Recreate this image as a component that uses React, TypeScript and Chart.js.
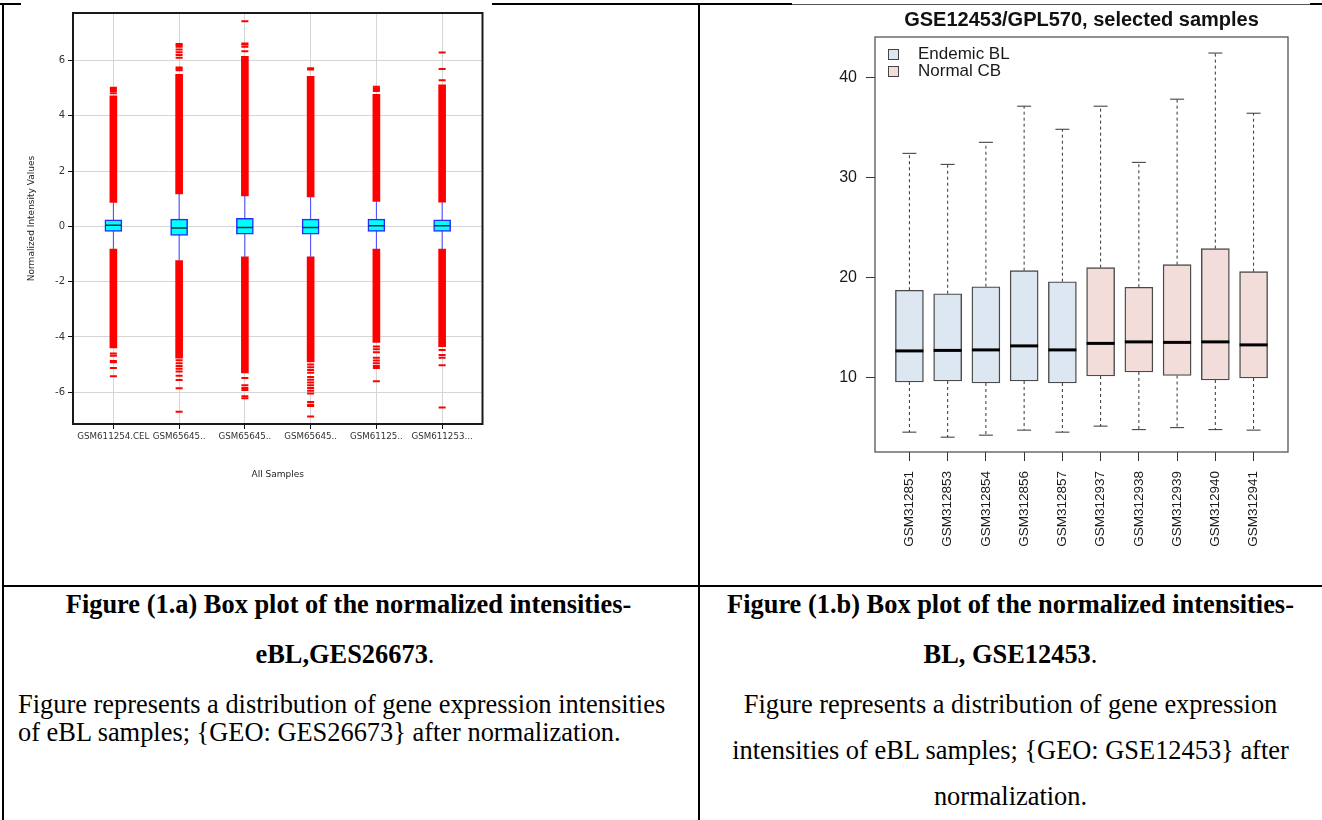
import React, { useEffect, useRef } from 'react';
import { Chart, registerables } from 'chart.js';

Chart.register(...registerables);

// ---------------- Figure 1.a : GSE26673 (normalized intensities) ----------------
const leftLabels = ['GSM611254.CEL', 'GSM65645..', 'GSM65645..', 'GSM65645..', 'GSM61125..', 'GSM611253...'];
const leftYTicks = [-6, -4, -2, 0, 2, 4, 6];
const leftQ1 = [-0.18, -0.33, -0.28, -0.28, -0.18, -0.18];
const leftMedian = [0.04, -0.06, -0.04, -0.04, 0.02, 0.02];
const leftQ3 = [0.24, 0.265, 0.29, 0.265, 0.265, 0.24];
const leftWhiskerLow = [-0.82, -1.24, -1.1, -1.1, -0.82, -0.82];
const leftWhiskerHigh = [0.87, 1.17, 1.1, 1.07, 0.9, 0.88];
// continuous band of densely packed outliers beyond each whisker
const leftDenseHigh = [4.72, 5.5, 6.15, 5.43, 4.78, 5.12];
const leftDenseLow = [-4.4, -4.77, -5.3, -4.9, -4.2, -4.35];
// separated outliers
const leftOutliersHigh = [
  [4.82, 4.9, 4.97, 5.02],
  [5.65, 5.7, 5.75, 6.1, 6.2, 6.3, 6.4, 6.5, 6.55, 6.6],
  [6.34, 6.5, 6.58, 6.62, 7.42],
  [5.68, 5.72],
  [4.9, 4.95, 5.0, 5.05],
  [5.29, 5.69, 6.29],
];
const leftOutliersLow = [
  [-4.6, -4.68, -4.87, -4.92, -5.12, -5.42],
  [-4.84, -4.95, -5.05, -5.15, -5.25, -5.4, -5.56, -5.86, -6.71],
  [-5.49, -5.75, -5.85, -5.92, -6.15, -6.22],
  [-5.0, -5.1, -5.2, -5.3, -5.45, -5.55, -5.65, -5.75, -5.85, -5.95, -6.05, -6.35, -6.45, -6.5, -6.88],
  [-4.35, -4.45, -4.55, -4.75, -4.85, -4.95, -5.05, -5.12, -5.6],
  [-4.47, -4.65, -4.75, -5.02, -6.55],
];

// ---------------- Figure 1.b : GSE12453/GPL570 ----------------
const rightTitle = 'GSE12453/GPL570, selected samples';
const rightLabels = ['GSM312851', 'GSM312853', 'GSM312854', 'GSM312856', 'GSM312857', 'GSM312937', 'GSM312938', 'GSM312939', 'GSM312940', 'GSM312941'];
const rightGroup = [0, 0, 0, 0, 0, 1, 1, 1, 1, 1];
const groupNames = ['Endemic BL', 'Normal CB'];
const groupColors = ['#dde7f1', '#f2dddb'];
const rightYTicks = [10, 20, 30, 40];
const rightMin = [4.6, 4.1, 4.3, 4.8, 4.6, 5.2, 4.85, 5.05, 4.85, 4.8];
const rightQ1 = [9.6, 9.7, 9.5, 9.7, 9.5, 10.2, 10.6, 10.25, 9.8, 10.0];
const rightMedian = [12.7, 12.75, 12.8, 13.2, 12.8, 13.45, 13.6, 13.55, 13.6, 13.3];
const rightQ3 = [18.75, 18.4, 19.1, 20.7, 19.6, 21.0, 19.05, 21.3, 22.9, 20.6];
const rightMax = [32.4, 31.3, 33.5, 37.1, 34.8, 37.1, 31.5, 37.8, 42.4, 36.4];

const framePlugin = {
  id: 'frame',
  afterDraw(chart: any, _args: any, opts: any) {
    if (!opts || !opts.color) return;
    const { ctx, chartArea: a } = chart;
    ctx.save();
    ctx.strokeStyle = opts.color;
    ctx.lineWidth = opts.width;
    ctx.strokeRect(a.left, a.top, a.right - a.left, a.bottom - a.top);
    ctx.restore();
  },
};

const boxLegendPlugin = {
  id: 'boxLegend',
  afterDraw(chart: any, _args: any, opts: any) {
    if (!opts || !opts.items) return;
    const { ctx, chartArea: a } = chart;
    ctx.save();
    ctx.font = opts.font;
    ctx.textBaseline = 'middle';
    ctx.textAlign = 'left';
    opts.items.forEach((it: any, i: number) => {
      const x = a.left + opts.left;
      const y = a.top + opts.top + i * opts.spacing;
      ctx.fillStyle = it.color;
      ctx.fillRect(x, y - opts.box / 2, opts.box, opts.box);
      ctx.strokeStyle = '#444';
      ctx.lineWidth = 1;
      ctx.strokeRect(x + 0.5, y - opts.box / 2 + 0.5, opts.box, opts.box);
      ctx.fillStyle = '#1a1a1a';
      ctx.fillText(it.label, x + opts.textGap, y);
    });
    ctx.restore();
  },
};

function whiskerData(idx: number[], q1: number[], q3: number[], lo: number[], hi: number[]) {
  const out: any[] = [];
  idx.forEach((i) => {
    out.push({ x: i, y: q3[i] }, { x: i, y: hi[i] }, { x: i, y: null });
    out.push({ x: i, y: q1[i] }, { x: i, y: lo[i] }, { x: i, y: null });
  });
  return out;
}

function leftConfig(): any {
  const idx = leftLabels.map((_, i) => i);
  const dejavu = '"DejaVu Sans", Verdana, sans-serif';
  return {
    type: 'bar',
    data: {
      datasets: [
        {
          type: 'scatter',
          data: idx.map((i) => ({ x: i, y: leftMedian[i] })),
          pointStyle: 'line',
          pointRadius: 8,
          pointBorderWidth: 1.5,
          pointBorderColor: '#10304a',
          order: 0,
        },
        {
          type: 'bar',
          data: idx.map((i) => ({ x: i, y: [leftQ1[i], leftQ3[i]] })),
          backgroundColor: '#00ffff',
          borderColor: '#2a2aff',
          borderWidth: 1.5,
          borderSkipped: false,
          barThickness: 17,
          grouped: false,
          order: 1,
        },
        {
          type: 'line',
          data: idx.flatMap((i) => [
            { x: i, y: leftWhiskerLow[i] },
            { x: i, y: leftWhiskerHigh[i] },
            { x: i, y: null },
          ]),
          borderColor: '#4444ff',
          borderWidth: 1,
          pointRadius: 0,
          spanGaps: false,
          order: 2,
        },
        {
          type: 'bar',
          data: idx.flatMap((i) => [
            { x: i, y: [leftWhiskerHigh[i], leftDenseHigh[i]] },
            { x: i, y: [leftDenseLow[i], leftWhiskerLow[i]] },
          ]),
          backgroundColor: '#ff0000',
          borderWidth: 0,
          barThickness: 7,
          grouped: false,
          order: 3,
        },
        {
          type: 'scatter',
          data: idx.flatMap((i) => [...leftOutliersHigh[i], ...leftOutliersLow[i]].map((v) => ({ x: i, y: v }))),
          pointStyle: 'line',
          pointRadius: 3.5,
          pointBorderWidth: 2,
          pointBorderColor: '#ff0000',
          order: 4,
        },
      ],
    },
    options: {
      animation: false,
      responsive: true,
      maintainAspectRatio: false,
      events: [],
      layout: { padding: { top: 13, right: 8, left: 0, bottom: 0 } },
      plugins: {
        legend: { display: false },
        tooltip: { enabled: false },
        frame: { color: '#1a1a1a', width: 2 },
      },
      scales: {
        x: {
          type: 'linear',
          offset: false,
          min: -0.614,
          max: 5.614,
          afterBuildTicks: (s: any) => {
            s.ticks = idx.map((v) => ({ value: v }));
          },
          afterFit: (s: any) => {
            s.height = 66;
          },
          ticks: {
            autoSkip: false,
            maxRotation: 0,
            padding: 3,
            color: '#333',
            font: { family: dejavu, size: 8.7 },
            callback: (_v: any, i: number) => leftLabels[i],
          },
          grid: { offset: false, color: '#d6d6d6', tickColor: '#111', tickLength: 5, lineWidth: 1 },
          border: { display: false },
          title: {
            display: true,
            text: 'All Samples',
            color: '#222',
            font: { family: dejavu, size: 9 },
            padding: { top: 0, bottom: 10 },
          },
        },
        y: {
          type: 'linear',
          min: -7.15,
          max: 7.72,
          afterBuildTicks: (s: any) => {
            s.ticks = leftYTicks.map((v) => ({ value: v }));
          },
          afterFit: (s: any) => {
            s.width = 52;
          },
          ticks: { padding: 3, color: '#333', font: { family: dejavu, size: 10 } },
          grid: { color: '#d6d6d6', tickColor: '#111', tickLength: 5, lineWidth: 1 },
          border: { display: false },
          title: {
            display: true,
            text: 'Normalized Intensity Values',
            color: '#222',
            font: { family: dejavu, size: 9 },
            padding: { top: 5.6, bottom: 0 },
          },
        },
      },
    },
    plugins: [framePlugin],
  };
}

function rightConfig(): any {
  const idx = rightLabels.map((_, i) => i);
  const sans = '"Liberation Sans", Arial, Helvetica, sans-serif';
  return {
    type: 'bar',
    data: {
      datasets: [
        {
          type: 'scatter',
          data: idx.map((i) => ({ x: i, y: rightMedian[i] })),
          pointStyle: 'line',
          pointRadius: 14,
          pointBorderWidth: 3,
          pointBorderColor: '#000',
          order: 0,
        },
        {
          type: 'bar',
          data: idx.map((i) => ({ x: i, y: [rightQ1[i], rightQ3[i]] })),
          backgroundColor: idx.map((i) => groupColors[rightGroup[i]]),
          borderColor: '#4a4a4a',
          borderWidth: 1.4,
          borderSkipped: false,
          barThickness: 28,
          grouped: false,
          order: 1,
        },
        {
          type: 'line',
          data: whiskerData(idx, rightQ1, rightQ3, rightMin, rightMax),
          borderColor: '#333',
          borderWidth: 1,
          borderDash: [3, 3],
          pointRadius: 0,
          spanGaps: false,
          order: 2,
        },
        {
          type: 'scatter',
          data: idx.flatMap((i) => [
            { x: i, y: rightMax[i] },
            { x: i, y: rightMin[i] },
          ]),
          pointStyle: 'line',
          pointRadius: 7,
          pointBorderWidth: 1,
          pointBorderColor: '#333',
          order: 3,
        },
      ],
    },
    options: {
      animation: false,
      responsive: true,
      maintainAspectRatio: false,
      events: [],
      layout: { padding: { top: 0, right: 22, left: 0, bottom: 0 } },
      plugins: {
        legend: { display: false },
        tooltip: { enabled: false },
        title: {
          display: true,
          text: rightTitle,
          fullSize: false,
          color: '#111',
          font: { family: sans, size: 20, weight: 'bold' },
          padding: { top: 8, bottom: 5 },
        },
        frame: { color: '#555', width: 1.3 },
        boxLegend: {
          items: groupNames.map((n, g) => ({ label: n, color: groupColors[g] })),
          font: '17px "Liberation Sans", Arial, sans-serif',
          left: 13,
          top: 17,
          spacing: 17,
          box: 10,
          textGap: 30,
        },
      },
      scales: {
        x: {
          type: 'linear',
          offset: false,
          min: -0.9,
          max: 9.9,
          afterBuildTicks: (s: any) => {
            s.ticks = idx.map((v) => ({ value: v }));
          },
          afterFit: (s: any) => {
            s.height = 118;
          },
          ticks: {
            autoSkip: false,
            minRotation: 90,
            maxRotation: 90,
            padding: 10,
            color: '#1a1a1a',
            font: { family: sans, size: 13.5 },
            callback: (_v: any, i: number) => rightLabels[i],
          },
          grid: { offset: false, drawOnChartArea: false, tickColor: '#333', tickLength: 9 },
          border: { display: false },
        },
        y: {
          type: 'linear',
          min: 2.62,
          max: 44.0,
          afterBuildTicks: (s: any) => {
            s.ticks = rightYTicks.map((v) => ({ value: v }));
          },
          afterFit: (s: any) => {
            s.width = 83;
          },
          ticks: { padding: 9, color: '#1a1a1a', font: { family: sans, size: 16 } },
          grid: { drawOnChartArea: false, tickColor: '#333', tickLength: 9 },
          border: { display: false },
        },
      },
    },
    plugins: [framePlugin, boxLegendPlugin],
  };
}

const serif = '"Liberation Serif", "Times New Roman", Times, serif';

type CapLine = { key: string; left: number; width: number; y: number; align: 'left' | 'center'; bold?: boolean; text: React.ReactNode };

const capLines: CapLine[] = [
  { key: 'a1', left: 0, width: 697, y: 604, align: 'center', bold: true, text: 'Figure (1.a) Box plot of the normalized intensities-' },
  { key: 'a2', left: 0, width: 690, y: 654, align: 'center', bold: true, text: <>eBL,GES26673<span style={{ fontWeight: 'normal' }}>.</span></> },
  { key: 'a3', left: 18, width: 680, y: 704, align: 'left', text: 'Figure represents a distribution of gene expression intensities' },
  { key: 'a4', left: 18, width: 680, y: 732, align: 'left', text: 'of eBL samples; {GEO: GES26673} after normalization.' },
  { key: 'b1', left: 700, width: 621, y: 604, align: 'center', bold: true, text: 'Figure (1.b) Box plot of the normalized intensities-' },
  { key: 'b2', left: 700, width: 621, y: 654, align: 'center', bold: true, text: <>BL, GSE12453<span style={{ fontWeight: 'normal' }}>.</span></> },
  { key: 'b3', left: 700, width: 621, y: 704, align: 'center', text: 'Figure represents a distribution of gene expression' },
  { key: 'b4', left: 700, width: 621, y: 750, align: 'center', text: 'intensities of eBL samples; {GEO: GSE12453} after' },
  { key: 'b5', left: 700, width: 621, y: 796, align: 'center', text: 'normalization.' },
];

function Rule({ l, t, w, h, c = '#000' }: { l: number; t: number; w: number; h: number; c?: string }) {
  return <div style={{ position: 'absolute', left: l, top: t, width: w, height: h, background: c }} />;
}

export default function App() {
  const leftRef = useRef<HTMLCanvasElement>(null);
  const rightRef = useRef<HTMLCanvasElement>(null);

  useEffect(() => {
    const c1 = new Chart(leftRef.current as HTMLCanvasElement, leftConfig());
    const c2 = new Chart(rightRef.current as HTMLCanvasElement, rightConfig());
    return () => {
      c1.destroy();
      c2.destroy();
    };
  }, []);

  return (
    <div
      style={{
        position: 'absolute',
        left: 0,
        top: 0,
        width: 1322,
        height: 820,
        background: '#fff',
        overflow: 'hidden',
        fontFamily: serif,
        color: '#000',
      }}
    >
      {/* table rules */}
      <Rule l={0} t={3} w={21} h={2} />
      <Rule l={492} t={3} w={300} h={2} />
      <Rule l={792} t={4} w={518} h={1} c="#555" />
      <Rule l={1310} t={3} w={12} h={2} />
      <Rule l={2} t={3} w={2} h={817} />
      <Rule l={698} t={3} w={2} h={817} />
      <Rule l={2} t={585} w={1320} h={2} />

      <div style={{ position: 'absolute', left: 21, top: 0, width: 471, height: 490 }}>
        <canvas ref={leftRef} />
      </div>
      <div style={{ position: 'absolute', left: 792, top: 0, width: 518, height: 570 }}>
        <canvas ref={rightRef} />
      </div>

      {capLines.map((c) => (
        <div
          key={c.key}
          style={{
            position: 'absolute',
            left: c.left,
            width: c.width,
            top: c.y - 15,
            height: 30,
            lineHeight: '30px',
            textAlign: c.align,
            fontSize: 26.4,
            fontWeight: c.bold ? 'bold' : 'normal',
            whiteSpace: 'nowrap',
          }}
        >
          {c.text}
        </div>
      ))}
    </div>
  );
}
